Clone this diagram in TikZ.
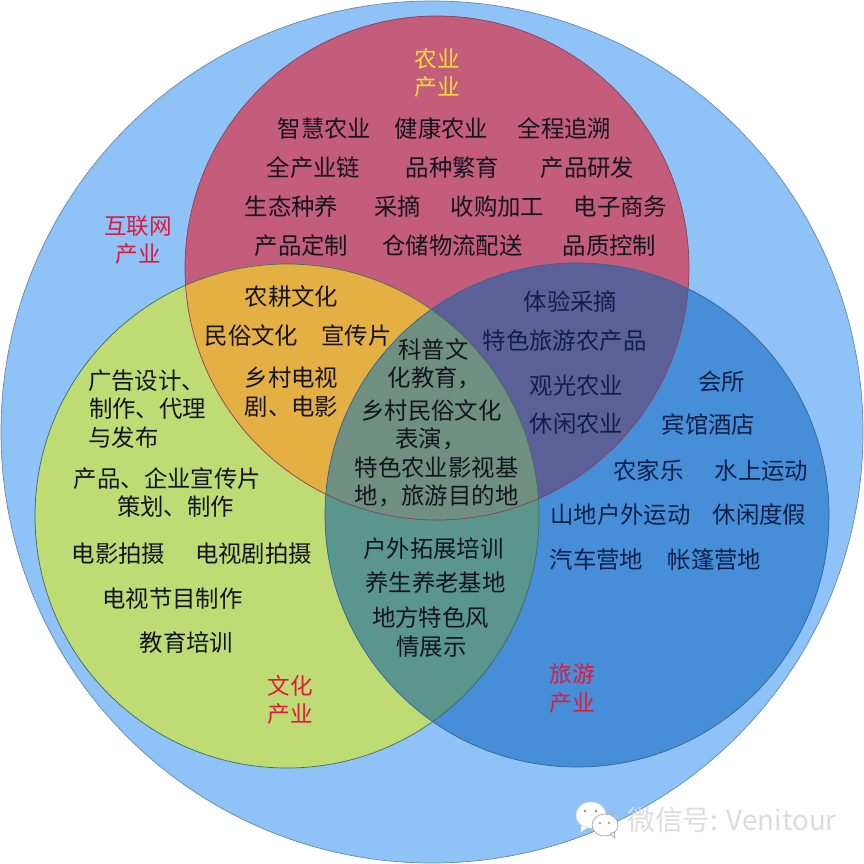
\documentclass[tikz,border=0pt]{standalone}
\usepackage{fontspec}
\setmainfont{Noto Sans CJK SC}
\definecolor{outerblue}{HTML}{8FC3F8}
\definecolor{agrired}{HTML}{C45C7C}
\definecolor{cultgreen}{HTML}{BFDB74}
\definecolor{tourblue}{HTML}{468FD8}
\definecolor{agricult}{HTML}{E4B044}
\definecolor{agritour}{HTML}{5C6098}
\definecolor{culttour}{HTML}{5A968E}
\definecolor{allthree}{HTML}{6F8F80}
\definecolor{textdark}{HTML}{14141E}
\definecolor{textnavy}{HTML}{0F2048}
\definecolor{titlered}{HTML}{E0183C}
\definecolor{titleyellow}{HTML}{F5E030}
\definecolor{markgray}{HTML}{DCDCDC}
\tikzset{
	ring/.style={draw=black!30!#1, line width=.7pt},
	item/.style={inner sep=0pt, xshift=.5pt, yshift=-1pt, text=textdark, font=\fontsize{23.4}{26}\selectfont},
	itemblue/.style={item, text=textnavy},
	title/.style={inner sep=0pt, yshift=-1pt, text=#1, font=\fontsize{22.6}{25}\selectfont},
	signtext/.style={inner sep=0pt, text=markgray, font=\fontsize{27.8}{30}\selectfont}
}
\begin{document}
\begin{tikzpicture}[x=1pt,y=-1pt]
	\useasboundingbox (0,0) rectangle (864,864);
	\coordinate (agri) at (437,268);
	\coordinate (cult) at (287,516);
	\coordinate (tour) at (577,515);

	\filldraw[fill=outerblue, draw=black!30!outerblue, line width=.7pt] (432,432) circle (431pt);

	\fill[agrired] (agri) circle (252pt);
	\fill[cultgreen] (cult) circle (252pt);
	\fill[tourblue] (tour) circle (252pt);

	\begin{scope}
		\clip (agri) circle (252pt);
		\fill[agricult] (cult) circle (252pt);
		\fill[agritour] (tour) circle (252pt);
	\end{scope}
	\begin{scope}
		\clip (cult) circle (252pt);
		\fill[culttour] (tour) circle (252pt);
		\clip (tour) circle (252pt);
		\fill[allthree] (agri) circle (252pt);
	\end{scope}

	\draw[ring=agrired] (agri) circle (252pt);
	\draw[ring=culttour] (cult) circle (252pt);
	\draw[ring=tourblue] (tour) circle (252pt);

	\node[title=titleyellow] (agrititleA) at (437,58) {农业};
	\node[title=titleyellow] (agrititleB) at (437,86) {产业};
	\node[title=titlered] (nettitleA) at (138,225) {互联网};
	\node[title=titlered] (nettitleB) at (138,253) {产业};
	\node[title=titlered] (culttitleA) at (290,685) {文化};
	\node[title=titlered] (culttitleB) at (290,713) {产业};
	\node[title=titlered] (tourtitleA) at (572,673) {旅游};
	\node[title=titlered] (tourtitleB) at (572,702) {产业};

	\node[item] (agriA) at (324,128) {智慧农业};
	\node[item] (agriB) at (441,128) {健康农业};
	\node[item] (agriC) at (564,128) {全程追溯};
	\node[item] (agriD) at (313,167) {全产业链};
	\node[item] (agriE) at (452,167) {品种繁育};
	\node[item] (agriF) at (587,167) {产品研发};
	\node[item] (agriG) at (291,206) {生态种养};
	\node[item] (agriH) at (397,206) {采摘};
	\node[item] (agriI) at (497,206) {收购加工};
	\node[item] (agriJ) at (620,206) {电子商务};
	\node[item] (agriK) at (301,245) {产品定制};
	\node[item] (agriL) at (452,245) {仓储物流配送};
	\node[item] (agriM) at (609,245) {品质控制};

	\node[item] (acA) at (291,296) {农耕文化};
	\node[item] (acB) at (251,335) {民俗文化};
	\node[item] (acC) at (356,335) {宣传片};
	\node[item] (acD) at (291,377) {乡村电视};
	\node[item] (acE) at (291,406) {剧、电影};

	\node[itemblue] (atA) at (570,301) {体验采摘};
	\node[itemblue] (atB) at (564,340) {特色旅游农产品};
	\node[itemblue] (atC) at (576,385) {观光农业};
	\node[itemblue] (atD) at (576,423) {休闲农业};

	\node[item] (allA) at (433,349) {科普文};
	\node[item] (allB) at (434,377) {化教育，};
	\node[item] (allC) at (431,410) {乡村民俗文化};
	\node[item] (allD) at (430,438) {表演，};
	\node[item] (allE) at (436,467) {特色农业影视基};
	\node[item] (allF) at (436,495) {地，旅游目的地};

	\node[item] (cultA) at (146,380) {广告设计、};
	\node[item] (cultB) at (147,408) {制作、代理};
	\node[item] (cultC) at (123,437) {与发布};
	\node[item] (cultD) at (167,478) {产品、企业宣传片};
	\node[item] (cultE) at (175,506) {策划、制作};
	\node[item] (cultF) at (118,553) {电影拍摄};
	\node[item] (cultG) at (253,553) {电视剧拍摄};
	\node[item] (cultH) at (172,598) {电视节目制作};
	\node[item] (cultI) at (186,642) {教育培训};

	\node[item] (ctA) at (433,548) {户外拓展培训};
	\node[item] (ctB) at (435,582) {养生养老基地};
	\node[item] (ctC) at (430,617) {地方特色风};
	\node[item] (ctD) at (431,646) {情展示};

	\node[itemblue] (tourA) at (721,381) {会所};
	\node[itemblue] (tourB) at (708,424) {宾馆酒店};
	\node[itemblue] (tourC) at (648,470) {农家乐};
	\node[itemblue] (tourD) at (761,470) {水上运动};
	\node[itemblue] (tourE) at (620,514) {山地户外运动};
	\node[itemblue] (tourF) at (759,514) {休闲度假};
	\node[itemblue] (tourG) at (596,559) {汽车营地};
	\node[itemblue] (tourH) at (714,559) {帐篷营地};

	\filldraw[fill=white, draw=markgray, line width=.7pt] (591,815) ellipse (15pt and 13pt);
	\filldraw[fill=white, draw=markgray, line width=.7pt] (581,826) -- (581,832) -- (588,827) -- cycle;
	\filldraw[fill=white, draw=black!35, line width=.7pt] (605,825) ellipse (13pt and 11pt);
	\filldraw[fill=white, draw=black!35, line width=.7pt] (610,834) -- (615,838) -- (614,832) -- cycle;
	\fill[black!45] (585,811) circle (1.3pt) (596,811) circle (1.3pt) (600,823) circle (1.2pt) (609,823) circle (1.2pt);

	\node[signtext] (sign) at (732,820) {微信号: Venitour};
\end{tikzpicture}
\end{document}
